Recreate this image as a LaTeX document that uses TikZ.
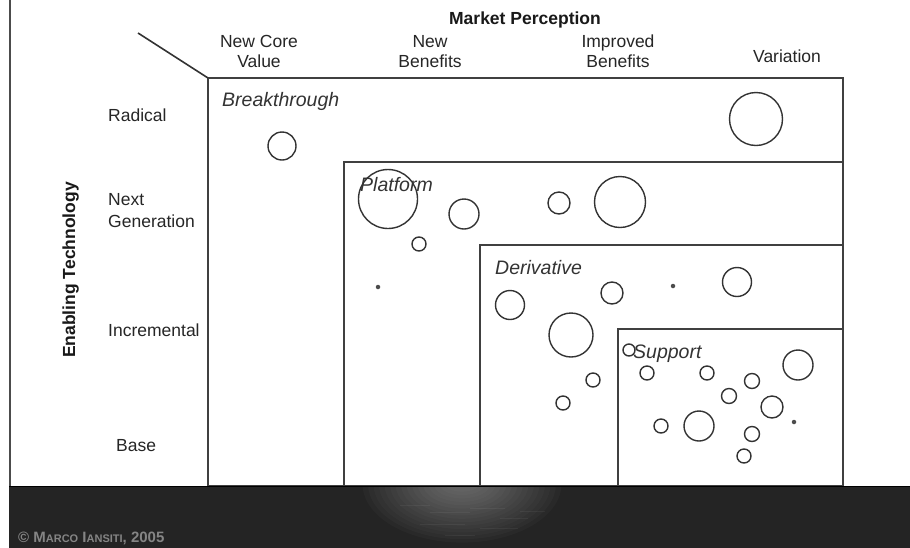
\documentclass[tikz,border=0pt]{standalone}
\usepackage{fontspec}
\setmainfont{Liberation Sans}
\begin{document}
\begin{tikzpicture}[x=1pt,y=-1pt,
  zonebox/.style={draw=black!75,line width=2pt},
  bub/.style={circle,draw=black!80,line width=1.4pt,inner sep=0pt,minimum size=#1},
  dotmark/.style={circle,fill=black!70,inner sep=0pt,minimum size=4.5pt},
  headlab/.style={inner sep=0pt,font=\fontsize{17.5}{20}\selectfont,align=center,text=black!85},
  rowlab/.style={inner sep=0pt,font=\fontsize{17.5}{22}\selectfont,align=left,text=black!85},
  zonelab/.style={inner sep=0pt,font=\fontsize{19.5}{22}\selectfont\itshape,text=black!80},
  titlelab/.style={inner sep=0pt,font=\fontsize{17.5}{20}\selectfont\bfseries,text=black!90}]
\useasboundingbox (0,0) rectangle (910,547);
\fill[white] (-2,-2) rectangle (912,549);

% outer frame line on the left
\draw[black!70,line width=2pt] (10,-2) -- (10,486);

% nested zones, all closing on the right edge
\draw[zonebox] (208,78) rectangle (843,486);
\draw[zonebox] (344,162) rectangle (843,486);
\draw[zonebox] (480,245) rectangle (843,486);
\draw[zonebox] (618,329) rectangle (843,486);

% corner diagonal of the axis header
\coordinate (diagA) at (138,33);
\coordinate (diagB) at (208,78);
\draw[black!80,line width=1.6pt] (diagA) -- (diagB);

% column headings
\node[titlelab,anchor=base] (mp) at (525,24) {Market Perception};
\node[headlab,anchor=north] (hncv) at (259,35) {New Core\\Value};
\node[headlab,anchor=north] (hnb) at (430,35) {New\\Benefits};
\node[headlab,anchor=north] (hib) at (618,35) {Improved\\Benefits};
\node[headlab,anchor=base] (hvar) at (787,62) {Variation};

% row headings
\node[titlelab,rotate=90,anchor=base] (et) at (75,270) {Enabling Technology};
\node[rowlab,anchor=base west] (rrad) at (108,121) {Radical};
\node[rowlab,anchor=north west] (rng) at (108,193) {Next\\Generation};
\node[rowlab,anchor=base west] (rinc) at (108,336) {Incremental};
\node[rowlab,anchor=base west] (rbase) at (116,451) {Base};

% zone names
\node[zonelab,anchor=base west] (zb) at (222,106.5) {Breakthrough};
\node[zonelab,anchor=base west] (zp) at (360,191) {Platform};
\node[zonelab,anchor=base west] (zd) at (495,274.5) {Derivative};
\node[zonelab,anchor=base west] (zs) at (633,358) {Support};

% projects: breakthrough
\node[bub=28pt] (b1) at (282,146) {};
\node[bub=53pt] (b2) at (756,119) {};

% projects: platform
\node[bub=59pt] (p1) at (388,199) {};
\node[bub=30pt] (p2) at (464,214) {};
\node[bub=14pt] (p3) at (419,244) {};
\node[dotmark] (p4) at (378,287) {};
\node[bub=22pt] (p5) at (559,203) {};
\node[bub=51pt] (p6) at (620,202) {};

% projects: derivative
\node[bub=29pt] (d1) at (510,305) {};
\node[bub=22pt] (d2) at (612,293) {};
\node[dotmark] (d3) at (673,286) {};
\node[bub=29pt] (d4) at (737,282) {};
\node[bub=44pt] (d5) at (571,335) {};
\node[bub=14pt] (d6) at (593,380) {};
\node[bub=14pt] (d7) at (563,403) {};

% projects: support
\node[bub=12pt] (s1) at (629,350) {};
\node[bub=14pt] (s2) at (647,373) {};
\node[bub=14pt] (s3) at (707,373) {};
\node[bub=15pt] (s4) at (752,381) {};
\node[bub=30pt] (s5) at (798,365) {};
\node[bub=15pt] (s6) at (729,396) {};
\node[bub=22pt] (s7) at (772,407) {};
\node[dotmark] (s8) at (794,422) {};
\node[bub=14pt] (s9) at (661,426) {};
\node[bub=30pt] (s10) at (699,426) {};
\node[bub=15pt] (s11) at (752,434) {};
\node[bub=14pt] (s12) at (744,456) {};

% dark water band along the bottom, with a soft glint in the middle
\fill[black!86] (9,486) rectangle (914,551);
\begin{scope}
  \clip (9,486) rectangle (914,551);
  \foreach \k [evaluate=\k as \rx using 105-5.5*\k,
               evaluate=\k as \ry using 62-3.4*\k] in {1,...,16}
    \fill[white,opacity=0.022] (462,484) ellipse (\rx pt and \ry pt);
  \foreach \xx/\yy/\ll in {400/505/30,430/512/40,470/508/35,500/518/28,420/524/45,480/528/38,445/535/30,520/511/25}
    \draw[white,line width=1pt,opacity=0.05] (\xx,\yy) -- ++(\ll,0);
\end{scope}
\draw[black,line width=1.5pt] (9,486.5) -- (914,486.5);
\node[anchor=base west,inner sep=0pt,text=black!48,font=\fontsize{15}{17}\selectfont\bfseries] (copy) at (18,542)
  {© M{\fontsize{11}{13}\selectfont ARCO} I{\fontsize{11}{13}\selectfont ANSITI}, 2005};
\end{tikzpicture}
\end{document}
